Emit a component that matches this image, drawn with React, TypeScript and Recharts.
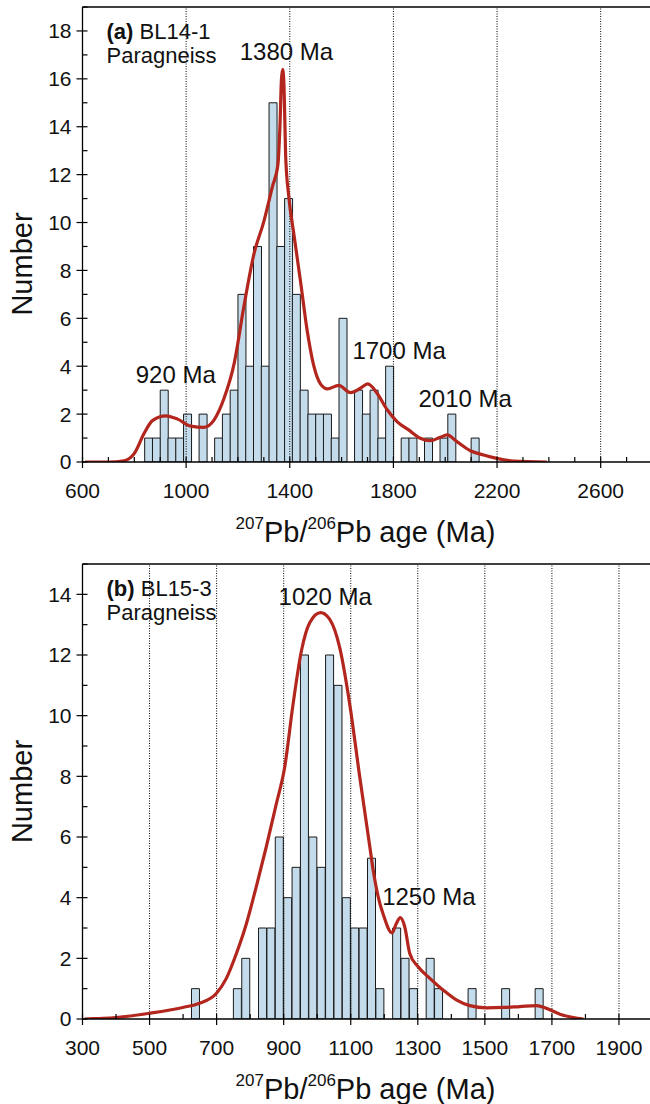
import React from 'react';
import { ComposedChart, Bar, Line, XAxis, YAxis, ReferenceLine, ReferenceDot } from 'recharts';

const FONT = '"Liberation Sans", Arial, Helvetica, sans-serif';

// ---- panel (a) BL14-1, 30 Ma bins ----
const binWidthA = 30;
const binStartsA = [840, 870, 900, 930, 960, 990, 1020, 1050, 1080, 1110, 1140, 1170, 1200, 1230, 1260, 1290, 1320, 1350, 1380, 1410, 1440, 1470, 1500, 1530, 1560, 1590, 1620, 1650, 1680, 1710, 1740, 1770, 1800, 1830, 1860, 1890, 1920, 1950, 1980, 2010, 2040, 2070, 2100];
const countsA = [1, 1, 3, 1, 1, 2, 0, 2, 0, 1, 2, 3, 7, 4, 9, 4, 15, 9, 11, 7, 3, 2, 2, 2, 1, 6, 0, 3, 2, 3, 1, 4, 0, 1, 1, 0, 1, 0, 1, 2, 0, 0, 1];
const kdeAgeA = [610, 700, 760, 800, 838, 870, 922, 967, 1018, 1069, 1108, 1146, 1185, 1223, 1262, 1300, 1333, 1354, 1362, 1368, 1373, 1378, 1384, 1396, 1416, 1442, 1467, 1493, 1519, 1545, 1589, 1634, 1673, 1701, 1737, 1776, 1814, 1859, 1904, 1942, 1981, 2007, 2045, 2097, 2148, 2199, 2263, 2392];
const kdeValA = [0, 0, 0.05, 0.36, 1.2, 1.73, 1.93, 1.79, 1.5, 1.45, 1.76, 2.65, 4.1, 6.5, 8.7, 10.05, 11.5, 12.4, 14.0, 16.0, 16.4, 15.6, 12.8, 11.1, 9.5, 7.5, 5.5, 4.0, 3.25, 3.05, 3.2, 2.9, 3.08, 3.26, 2.87, 2.18, 1.69, 1.34, 0.99, 0.89, 1.03, 1.13, 0.85, 0.47, 0.29, 0.15, 0.04, 0];
const xTicksA = [600, 700, 800, 900, 1000, 1100, 1200, 1300, 1400, 1500, 1600, 1700, 1800, 1900, 2000, 2100, 2200, 2300, 2400, 2500, 2600, 2700];
const xMajorA = [600, 1000, 1400, 1800, 2200, 2600];
const yTicksA = [0, 1, 2, 3, 4, 5, 6, 7, 8, 9, 10, 11, 12, 13, 14, 15, 16, 17, 18, 19];
const peaksA = [
  { text: '1380 Ma', age: 1387, n: 17.13 },
  { text: '920 Ma', age: 960, n: 3.67 },
  { text: '1700 Ma', age: 1822, n: 4.65 },
  { text: '2010 Ma', age: 2077, n: 2.66 },
];

// ---- panel (b) BL15-3, 25 Ma bins ----
const binWidthB = 25;
const binStartsB = [625, 650, 675, 700, 725, 750, 775, 800, 825, 850, 875, 900, 925, 950, 975, 1000, 1025, 1050, 1075, 1100, 1125, 1150, 1175, 1200, 1225, 1250, 1275, 1300, 1325, 1350, 1375, 1400, 1425, 1450, 1475, 1500, 1525, 1550, 1575, 1600, 1625, 1650];
const countsB = [1, 0, 0, 0, 0, 1, 2, 0, 3, 3, 6, 4, 5, 12, 6, 5, 12, 11, 4, 3, 3, 5.3, 1, 0, 3, 2, 1, 0, 2, 1, 0, 0, 0, 1, 0, 0, 0, 1, 0, 0, 0, 1];
const kdeAgeB = [306, 400, 500, 599, 649, 699, 729, 759, 789, 818, 848, 878, 903, 928, 953, 978, 1010, 1037, 1067, 1097, 1127, 1157, 1167, 1187, 1196, 1223, 1236, 1248, 1261, 1276, 1301, 1336, 1376, 1415, 1455, 1505, 1555, 1604, 1654, 1684, 1724, 1764, 1794];
const kdeValB = [0, 0.05, 0.19, 0.38, 0.52, 0.84, 1.34, 2.16, 3.15, 4.35, 5.67, 7.09, 8.3, 10.38, 12.14, 13.07, 13.4, 13.18, 12.25, 10.38, 7.97, 5.67, 4.9, 3.8, 3.48, 2.84, 3.15, 3.34, 3.04, 2.16, 1.72, 1.34, 0.95, 0.63, 0.44, 0.37, 0.38, 0.41, 0.44, 0.35, 0.16, 0.05, 0];
const xTicksB = [300, 400, 500, 600, 700, 800, 900, 1000, 1100, 1200, 1300, 1400, 1500, 1600, 1700, 1800, 1900];
const xMajorB = [300, 500, 700, 900, 1100, 1300, 1500, 1700, 1900];
const yTicksB = [0, 1, 2, 3, 4, 5, 6, 7, 8, 9, 10, 11, 12, 13, 14, 15];
const peaksB = [
  { text: '1020 Ma', age: 1024, n: 13.94 },
  { text: '1250 Ma', age: 1333, n: 4.05 },
];

const AXIS = { stroke: '#000', strokeWidth: 1.3 };

function makeXTick(majors: number[]) {
  return (props: any) => {
    const { x, y, payload } = props;
    const major = majors.includes(payload.value);
    return (
      <g>
        <line x1={x} x2={x} y1={y - 5} y2={major ? y + 6 : y} stroke="#000" strokeWidth={1.2} />
        {major && (
          <text x={x} y={y + 36} textAnchor="middle" fontSize={21} fontFamily={FONT} fill="#111">
            {payload.value}
          </text>
        )}
      </g>
    );
  };
}

function YTick(props: any) {
  const { x, y, payload } = props;
  const major = payload.value % 2 === 0;
  return (
    <g>
      <line x1={major ? x - 6 : x} x2={x + 5} y1={y} y2={y} stroke="#000" strokeWidth={1.2} />
      {major && (
        <text x={x - 11} y={y} dy="0.355em" textAnchor="end" fontSize={21} fontFamily={FONT} fill="#111">
          {payload.value}
        </text>
      )}
    </g>
  );
}

const ageTitle = (props: any) => {
  const { x, y, width } = props.viewBox;
  return (
    <text x={x + width / 2 - 2} y={y + 80} textAnchor="middle" fontFamily={FONT} fill="#111" fontSize={29}>
      <tspan fontSize={17} dy={-13}>207</tspan>
      <tspan dy={13}>Pb/</tspan>
      <tspan fontSize={17} dy={-13}>206</tspan>
      <tspan dy={13}>Pb age (Ma)</tspan>
    </text>
  );
};

const numberTitle = (shift: number) => (props: any) => {
  const { y, height } = props.viewBox;
  const cx = 31.5;
  const cy = y + height / 2 + shift;
  return (
    <text x={cx} y={cy} transform={`rotate(-90 ${cx} ${cy})`} textAnchor="middle" fontSize={29} fontFamily={FONT} fill="#111">
      Number
    </text>
  );
};

const tagLabel = (tag: string, sample: string) => (props: any) => {
  const { x, y } = props.viewBox;
  return (
    <text x={x + 24} y={y + 31.5} fontSize={22} fontFamily={FONT} fill="#111">
      <tspan fontWeight="bold">{tag}</tspan>
      <tspan> {sample}</tspan>
      <tspan x={x + 24} dy={24.4}>Paragneiss</tspan>
    </text>
  );
};

const peakLabel = (text: string) => (props: any) => {
  const { x, y } = props.viewBox;
  return (
    <text x={x} y={y + 8.5} textAnchor="middle" fontSize={24} fontFamily={FONT} fill="#111">
      {text}
    </text>
  );
};

interface PanelProps {
  top: number;
  binWidth: number;
  binStarts: number[];
  counts: number[];
  kdeAge: number[];
  kdeVal: number[];
  domain: [number, number];
  yMax: number;
  xTicks: number[];
  xMajor: number[];
  yTicks: number[];
  peaks: { text: string; age: number; n: number }[];
  tag: string;
  sample: string;
  titleShift: number;
}

function Panel(p: PanelProps) {
  const bins = p.binStarts.map((s, i) => ({ x: s + p.binWidth / 2, n: p.counts[i] }));
  const kde = p.kdeAge.map((a, i) => ({ age: a, n: p.kdeVal[i] }));
  return (
    <div style={{ position: 'absolute', left: 0, top: p.top }}>
      <ComposedChart
        width={660}
        height={560}
        data={bins}
        margin={{ top: 7, right: 7.5, bottom: 0, left: 0 }}
        barCategoryGap={0}
        barGap={0}
      >
        <XAxis
          dataKey="x"
          type="number"
          domain={p.domain}
          allowDataOverflow
          ticks={p.xTicks}
          interval={0}
          height={98}
          tickLine={false}
          tickSize={0}
          tickMargin={0}
          axisLine={AXIS}
          tick={makeXTick(p.xMajor)}
          label={ageTitle}
        />
        <XAxis xAxisId="kde" dataKey="age" type="number" domain={p.domain} allowDataOverflow hide />
        <YAxis
          type="number"
          domain={[0, p.yMax]}
          allowDataOverflow
          ticks={p.yTicks}
          interval={0}
          width={82.5}
          tickLine={false}
          tickSize={0}
          tickMargin={0}
          axisLine={AXIS}
          tick={YTick}
          label={numberTitle(p.titleShift)}
        />
        {p.xMajor.slice(1).map((v) => (
          <ReferenceLine key={v} x={v} stroke="#000" strokeWidth={1} strokeDasharray="1 1.5" />
        ))}
        <ReferenceLine y={p.yMax} stroke="#000" strokeWidth={1.3} />
        <Bar dataKey="n" fill="#c3dbea" stroke="#1a1a1a" strokeWidth={1} isAnimationActive={false} />
        <Line
          xAxisId="kde"
          data={kde}
          dataKey="n"
          type="monotone"
          stroke="#b3261e"
          strokeWidth={3.2}
          dot={false}
          activeDot={false}
          isAnimationActive={false}
        />
        <ReferenceDot x={p.domain[0]} y={p.yMax} r={0} fill="none" stroke="none" label={tagLabel(p.tag, p.sample)} />
        {p.peaks.map((pk) => (
          <ReferenceDot key={pk.text} x={pk.age} y={pk.n} r={0} fill="none" stroke="none" label={peakLabel(pk.text)} />
        ))}
      </ComposedChart>
    </div>
  );
}

export default function App() {
  return (
    <div style={{ position: 'absolute', left: 0, top: 0, width: 650, height: 1104, overflow: 'hidden', background: '#fff' }}>
      <Panel
        top={0}
        binWidth={binWidthA}
        binStarts={binStartsA}
        counts={countsA}
        kdeAge={kdeAgeA}
        kdeVal={kdeValA}
        domain={[600, 2800]}
        yMax={19}
        xTicks={xTicksA}
        xMajor={xMajorA}
        yTicks={yTicksA}
        peaks={peaksA}
        tag="(a)"
        sample="BL14-1"
        titleShift={29.5}
      />
      <Panel
        top={557}
        binWidth={binWidthB}
        binStarts={binStartsB}
        counts={countsB}
        kdeAge={kdeAgeB}
        kdeVal={kdeValB}
        domain={[300, 2000]}
        yMax={15}
        xTicks={xTicksB}
        xMajor={xMajorB}
        yTicks={yTicksB}
        peaks={peaksB}
        tag="(b)"
        sample="BL15-3"
        titleShift={0}
      />
    </div>
  );
}
